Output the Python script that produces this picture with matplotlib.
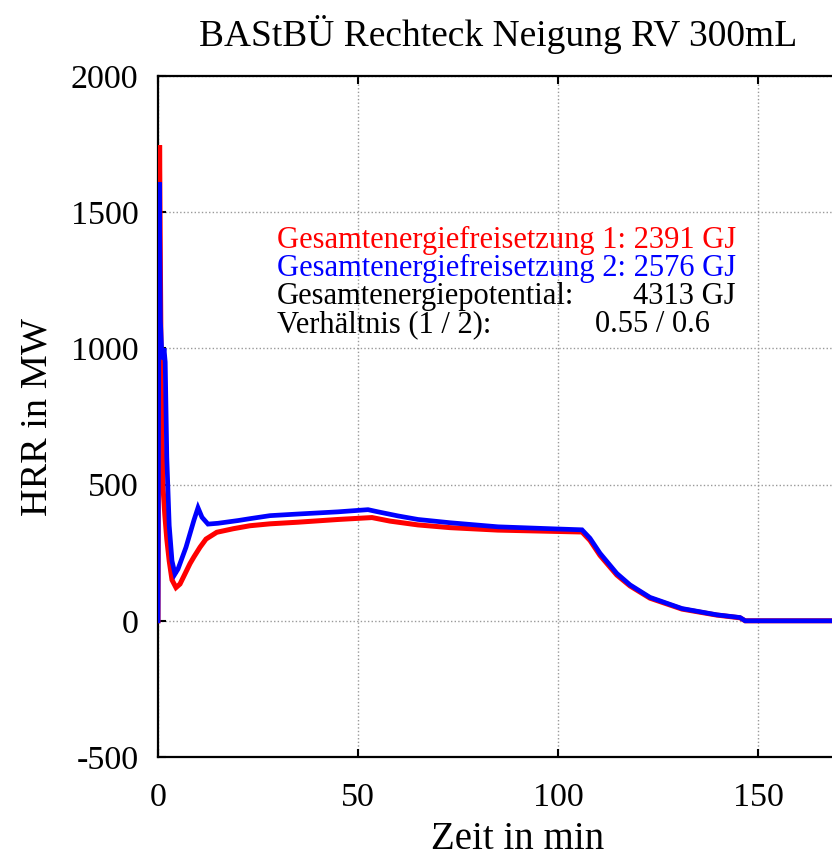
import matplotlib
matplotlib.use("Agg")
import matplotlib.pyplot as plt

plt.rcParams['font.family'] = ['Liberation Serif', 'DejaVu Serif']
plt.rcParams['axes.unicode_minus'] = False

# Data (time in min, HRR in MW)
t_red = [0, 0.15, 0.4, 0.6, 0.8, 1.0, 1.3, 1.7, 2.2, 2.8, 3.5, 4.5, 5.5, 6.5,
         8, 9, 10.5, 12, 14.7, 18.8, 23, 28, 35, 45, 53.5, 58, 65, 73, 85,
         100, 106, 108, 110.5, 114.7, 118, 123, 131, 139.7, 145.5, 146.8,
         150, 168.5]
hrr_red = [0, 900, 1746, 1300, 900, 700, 480, 390, 300, 220, 150, 122, 135,
           165, 210, 235, 270, 300, 325, 338, 349, 356, 362, 372, 379, 366,
           352, 342, 333, 328, 326, 295, 240, 168, 128, 83, 43, 21, 11, 0,
           0, 0]

t_blue = [0, 0.15, 0.3, 0.6, 0.9, 1.2, 1.5, 1.8, 2.2, 2.8, 3.5, 4.25, 5, 6,
          7, 8, 9, 10, 11, 12.5, 15, 20, 23, 28, 35, 45, 52.5, 55, 60, 65,
          73, 85, 100, 106, 108, 110.5, 114.7, 118, 123, 131, 139.7, 145.5,
          146.8, 150, 168.5]
hrr_blue = [0, 800, 1610, 1100, 1000, 960, 1000, 950, 600, 350, 220, 172,
            190, 230, 270, 320, 370, 415, 380, 355, 358, 368, 375, 386, 392,
            400, 408, 400, 385, 372, 360, 345, 337, 334, 303, 248, 174, 132,
            86, 45, 22, 12, 0, 0, 0]

title = "BAStBÜ Rechteck Neigung RV 300mL"
xlabel = "Zeit in min"
ylabel = "HRR in MW"
xticks = [0, 50, 100, 150]
yticks = [-500, 0, 500, 1000, 1500, 2000]
info_red = "Gesamtenergiefreisetzung 1: 2391 GJ"
info_blue = "Gesamtenergiefreisetzung 2: 2576 GJ"
info_pot_label = "Gesamtenergiepotential:"
info_pot_value = "4313 GJ"
info_ratio_label = "Verhältnis (1 / 2):"
info_ratio_value = "0.55 / 0.6"

fig = plt.figure(figsize=(8.32, 8.6), dpi=100)
ax = fig.add_axes([158/832, 103/860, 720/832, 681/860])

ax.plot(t_red, hrr_red, color='#ff0000', lw=3.6, solid_joinstyle='miter', zorder=3)
ax.plot(t_blue, hrr_blue, color='#0000ff', lw=3.4, solid_joinstyle='miter', zorder=4)

ax.set_xlim(0, 180)
ax.set_ylim(-500, 2000)
ax.set_xticks(xticks)
ax.set_yticks(yticks)
ax.grid(True, linestyle=(0, (1.0, 1.6)), color='#999999', lw=1.0)
ax.set_axisbelow(True)
ax.tick_params(direction='in', length=6, width=1.5, top=True, right=True,
               labelsize=24.5)
ax.tick_params(axis='x', pad=18)
ax.tick_params(axis='y', pad=14)
for s in ax.spines.values():
    s.set_linewidth(1.6)

ax.set_xlabel(xlabel, fontsize=28, labelpad=6)
ax.set_ylabel(ylabel, fontsize=27.5, labelpad=12)
fig.text(498/832, 1 - 35/860, title, ha='center', va='center', fontsize=27)

fs = 22
ax.text(29.75, 1368, info_red, color='#ff0000', fontsize=fs, va='baseline')
ax.text(29.75, 1265, info_blue, color='#0000ff', fontsize=fs, va='baseline')
ax.text(29.75, 1162, info_pot_label, color='black', fontsize=fs, va='baseline')
ax.text(144.25, 1162, info_pot_value, color='black', fontsize=fs, va='baseline', ha='right')
ax.text(29.75, 1059, info_ratio_label, color='black', fontsize=fs, va='baseline')
ax.text(109.25, 1059, info_ratio_value, color='black', fontsize=fs, va='baseline')

fig.savefig("out.png", dpi=100)
